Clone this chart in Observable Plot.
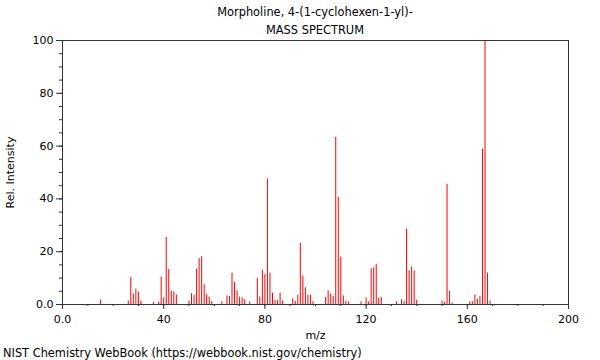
<!DOCTYPE html>
<html>
<head>
<meta charset="utf-8">
<script src="https://cdn.jsdelivr.net/npm/d3@7"></script>
<script src="https://cdn.jsdelivr.net/npm/@observablehq/plot@0.6"></script>
<style>
  html, body { margin: 0; padding: 0; background: #fff; }
  #wrap { position: relative; width: 600px; height: 360px; font-family: "DejaVu Sans", sans-serif; color: #000; }
  #title { position: absolute; z-index: 2; left: 62px; width: 506px; top: 4px; text-align: center; font-size: 11.4px; line-height: 17.5px; }
  #chart { position: absolute; z-index: 1; left: 0; top: 30px; }
  #caption { position: absolute; left: 3px; top: 345px; font-size: 11.4px; line-height: 16px; }
</style>
</head>
<body>
<div id="wrap">
  <div id="title"><div>Morpholine, 4-(1-cyclohexen-1-yl)-</div><div>MASS SPECTRUM</div></div>
  <div id="chart"></div>
  <div id="caption">NIST Chemistry WebBook (https://webbook.nist.gov/chemistry)</div>
</div>
<script>
const mz = [15,26,27,28,29,30,31,36,38,39,40,41,42,43,44,45,50,51,52,53,54,55,56,57,58,59,63,65,66,67,68,69,70,71,72,74,77,78,79,80,81,82,83,84,85,86,87,91,92,93,94,95,96,97,98,99,104,105,106,107,108,109,110,111,112,113,118,120,121,122,123,124,125,126,132,134,135,136,137,138,139,140,150,151,152,153,154,161,162,163,164,165,166,167,168,169];
const intensity = [1.7,1.3,10.3,4.0,5.8,4.7,1.3,0.9,0.9,10.4,2.5,25.4,13.3,5.1,4.8,3.6,1.3,4.1,3.5,13.4,17.4,18.2,7.5,3.8,2.8,1.1,1.1,3.3,3.0,11.9,8.4,5.2,2.8,2.5,1.8,1.0,9.9,2.8,13.0,11.4,47.6,11.9,4.3,1.5,1.5,4.3,1.4,2.2,1.2,3.5,23.2,10.8,6.3,3.5,3.5,1.1,2.7,5.2,4.0,3.0,63.3,40.6,17.9,3.3,1.3,1.0,1.0,2.5,1.0,13.5,13.9,15.2,2.3,2.7,1.0,1.8,1.1,28.5,12.8,14.2,12.8,1.6,1.3,0.8,45.5,5.1,0.6,1.0,1.0,3.6,2.0,3.0,58.8,100,11.9,1.3];
const xMajor = [0,40,80,120,160,200];
const yMajor = [0,20,40,60,80,100];
const xMinor = d3.range(0, 201, 10);
const yMinor = d3.range(0, 101, 5);

const peaks = mz.map((m, i) => ({mz: m, intensity: intensity[i]}));
const fmt = d => d === 0 ? "0.0" : String(d);

const chart = Plot.plot({
  width: 600,
  height: 310,
  marginLeft: 62,
  marginRight: 32,
  marginTop: 10,
  marginBottom: 36,
  style: {fontFamily: "DejaVu Sans, sans-serif", fontSize: "11px", color: "#000", background: "transparent"},
  x: {domain: [0, 200]},
  y: {domain: [0, 100]},
  marks: [
    Plot.ruleX(peaks, {x: "mz", y1: 0, y2: "intensity", stroke: "#ff0000", strokeWidth: 1}),
    Plot.axisX({ticks: xMinor, tickSize: 2, text: null, label: null, stroke: "#333"}),
    Plot.axisX({ticks: xMajor, tickSize: 5, tickPadding: 6, tickFormat: fmt, stroke: "#333", label: "m/z", labelAnchor: "center", labelArrow: "none", labelOffset: 34}),
    Plot.axisY({ticks: yMinor, tickSize: 3, text: null, label: null, stroke: "#333"}),
    Plot.axisY({ticks: yMajor, tickSize: 6, tickPadding: 3, tickFormat: fmt, stroke: "#333", label: "Rel. Intensity", labelAnchor: "center", labelArrow: "none", labelOffset: 56}),
    Plot.frame({stroke: "#333"})
  ]
});
document.getElementById("chart").appendChild(chart);
</script>
</body>
</html>
